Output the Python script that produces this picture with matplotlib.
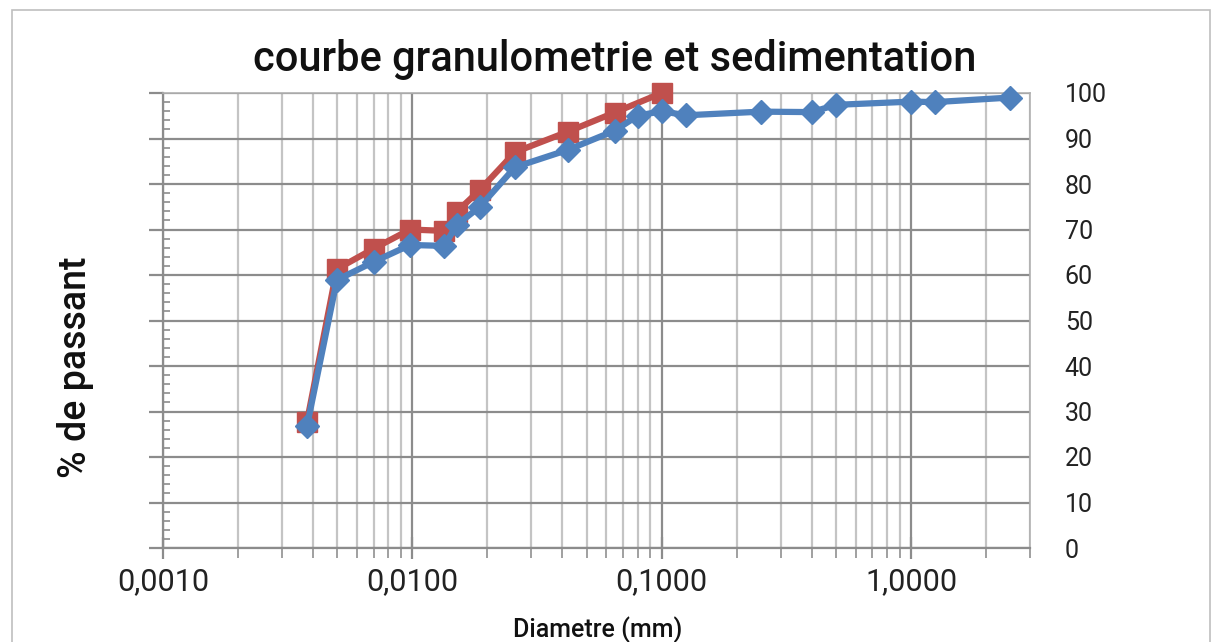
import matplotlib
matplotlib.use("Agg")
import matplotlib.pyplot as plt
from matplotlib.ticker import FixedLocator, FixedFormatter, MultipleLocator, NullFormatter
from matplotlib.patches import Rectangle

plt.rcParams['font.family'] = ['Roboto', 'DejaVu Sans']

# diameters (mm) and % passing
diam_total = [0.00378, 0.00498, 0.0070, 0.00979, 0.01342, 0.01507, 0.01866, 0.02581,
              0.04203, 0.0647, 0.08, 0.1, 0.125, 0.25, 0.4, 0.5, 1.0, 1.25, 2.5]
pass_total = [26.8, 58.9, 62.9, 66.6, 66.4, 71.0, 75.0, 83.7, 87.5, 91.7,
              95.0, 96.0, 95.1, 95.9, 95.8, 97.4, 98.1, 98.0, 99.0]

diam_sed = [0.00378, 0.00498, 0.0070, 0.00979, 0.01342, 0.01507, 0.01866, 0.02581,
            0.04203, 0.0647, 0.1]
pass_sed = [27.8, 61.3, 65.8, 70.0, 69.7, 73.9, 78.7, 87.0, 91.5, 95.7, 100.0]

x_ticks = [0.001, 0.01, 0.1, 1.0]
x_labels = ['0,0010', '0,0100', '0,1000', '1,0000']

blue = '#4F81BD'
red = '#C0504D'

fig = plt.figure(figsize=(12.13, 6.42), dpi=100)
ax = fig.add_axes([163 / 1213, 1 - 548 / 642, (1030 - 163) / 1213, (548 - 93) / 642])

# outer chart border
fig.patches.append(Rectangle((12 / 1213, -0.1), (1210 - 12) / 1213, 1.1 - 10 / 642,
                             transform=fig.transFigure, fill=False,
                             edgecolor='#bfbfbf', linewidth=1.2))

ax.set_xscale('log')
ax.set_xlim(0.001, 3.0)
ax.set_ylim(0, 100)

minor_x = [m * 10.0 ** e for e in range(-3, 1) for m in range(2, 10)]
minor_x = [v for v in minor_x if v <= 3.0]
ax.xaxis.set_major_locator(FixedLocator(x_ticks))
ax.xaxis.set_major_formatter(FixedFormatter(x_labels))
ax.xaxis.set_minor_locator(FixedLocator(minor_x))
ax.xaxis.set_minor_formatter(NullFormatter())
ax.yaxis.set_major_locator(MultipleLocator(10))
ax.yaxis.set_minor_locator(MultipleLocator(2))

ax.grid(which='major', axis='y', color='#8c8c8c', linewidth=1.6, zorder=0)
ax.grid(which='major', axis='x', color='#8c8c8c', linewidth=1.6, zorder=0)
ax.grid(which='minor', axis='x', color='#c4c4c4', linewidth=1.6, zorder=0)

for s in ax.spines.values():
    s.set_color('#b0b0b0')
    s.set_linewidth(1.2)
ax.spines['left'].set_color('#8c8c8c')
ax.spines['left'].set_linewidth(1.6)
ax.spines['bottom'].set_color('#8c8c8c')
ax.spines['bottom'].set_linewidth(1.6)

ax.tick_params(axis='y', which='major', left=True, right=False, labelleft=False,
               labelright=True, direction='out', length=10, width=1.6,
               color='#8c8c8c', labelsize=18, pad=15, labelcolor='#222222')
ax.tick_params(axis='y', which='minor', left=True, right=False, direction='in',
               length=5, width=1.2, color='#8c8c8c')
ax.tick_params(axis='x', which='major', direction='inout', length=16, width=1.6,
               color='#8c8c8c', labelsize=22, pad=6, labelcolor='#222222')
ax.tick_params(axis='x', which='minor', direction='out', length=7, width=1.4,
               color='#a0a0a0')

ax.plot(diam_sed, pass_sed, color=red, linewidth=4.5, marker='s', markersize=14,
        markeredgecolor=red, zorder=3, clip_on=False)
ax.plot(diam_total, pass_total, color=blue, linewidth=4.5, marker='D', markersize=12,
        markeredgecolor=blue, zorder=4, clip_on=False)

fig.text(615 / 1213, 1 - 60 / 642, 'courbe granulometrie et sedimentation',
         ha='center', va='center', fontsize=30, weight='medium', color='#111111')
fig.text(76 / 1213, 1 - 367 / 642, '% de passant', rotation=90,
         ha='center', va='center', fontsize=27, weight='medium', color='#111111')
fig.text(598 / 1213, 1 - 630 / 642, 'Diametre (mm)',
         ha='center', va='center', fontsize=18, weight='medium', color='#111111')

fig.savefig('out.png', dpi=100)
